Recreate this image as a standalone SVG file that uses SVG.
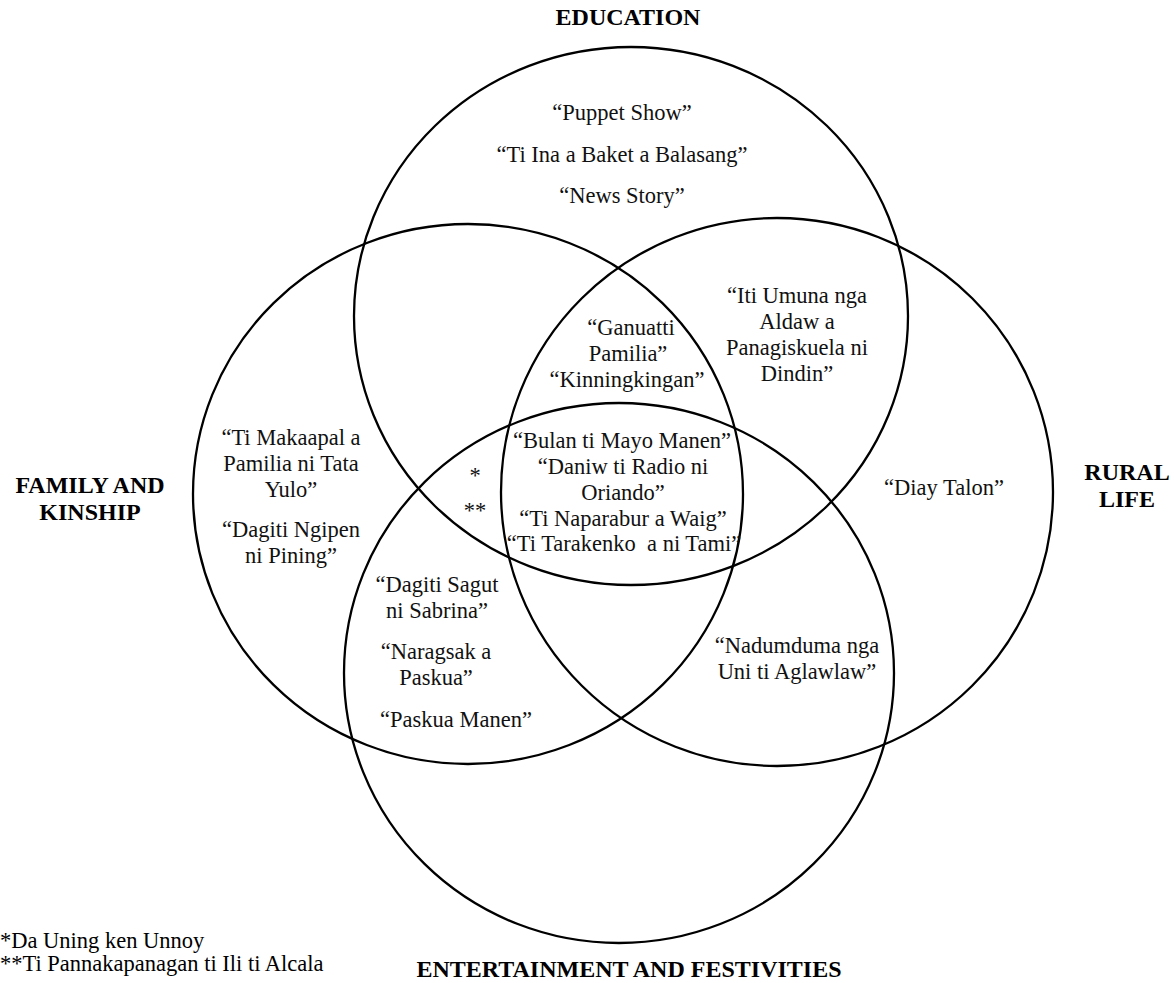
<svg xmlns="http://www.w3.org/2000/svg" width="1174" height="983" viewBox="0 0 1174 983">
<style>
.c{fill:none;stroke:#000;stroke-width:2.3}
.t{font-family:"Liberation Serif","Times New Roman",serif;font-size:22.5px;fill:#111;text-anchor:middle}
.l{font-family:"Liberation Serif","Times New Roman",serif;font-size:24px;font-weight:bold;fill:#000;text-anchor:middle}
.f{font-family:"Liberation Serif","Times New Roman",serif;font-size:22.5px;fill:#000}
</style>
<rect width="1174" height="983" fill="#fff"/>
<g id="connectors">
<ellipse id="c-education" class="c" cx="631" cy="316" rx="277" ry="269"/>
<ellipse id="c-family" class="c" cx="468" cy="494" rx="275" ry="270"/>
<ellipse id="c-rural" class="c" cx="777" cy="492" rx="276" ry="274"/>
<ellipse id="c-entertainment" class="c" cx="619" cy="673" rx="275" ry="270"/>
</g>
<g id="labels">
<text class="l" x="628" y="25">EDUCATION</text>
<text class="l" x="90" y="493">FAMILY AND</text>
<text class="l" x="90" y="520">KINSHIP</text>
<text class="l" x="1127" y="480">RURAL</text>
<text class="l" x="1127" y="507">LIFE</text>
<text class="l" x="629" y="977">ENTERTAINMENT AND FESTIVITIES</text>
</g>
<g id="education-only">
<text class="t" x="622" y="120">“Puppet Show”</text>
<text class="t" x="622" y="162">“Ti Ina a Baket a Balasang”</text>
<text class="t" x="622" y="203">“News Story”</text>
</g>
<g id="edu-family-rural">
<text class="t" x="631" y="335">“Ganuatti</text>
<text class="t" x="628" y="361">Pamilia”</text>
<text class="t" x="627" y="387">“Kinningkingan”</text>
</g>
<g id="all-four">
<text class="t" x="622" y="448">“Bulan ti Mayo Manen”</text>
<text class="t" x="623" y="474">“Daniw ti Radio ni</text>
<text class="t" x="623" y="500">Oriando”</text>
<text class="t" x="623" y="526">“Ti Naparabur a Waig”</text>
<text class="t" x="624" y="551" xml:space="preserve">“Ti Tarakenko  a ni Tami”</text>
</g>
<g id="edu-rural">
<text class="t" x="797" y="303">“Iti Umuna nga</text>
<text class="t" x="797" y="329">Aldaw a</text>
<text class="t" x="797" y="355">Panagiskuela ni</text>
<text class="t" x="797" y="381">Dindin”</text>
</g>
<g id="family-only">
<text class="t" x="291" y="445">“Ti Makaapal a</text>
<text class="t" x="291" y="471">Pamilia ni Tata</text>
<text class="t" x="291" y="497">Yulo”</text>
<text class="t" x="291" y="537">“Dagiti Ngipen</text>
<text class="t" x="291" y="563">ni Pining”</text>
</g>
<g id="edu-family-ent">
<text class="t" x="475" y="483">*</text>
<text class="t" x="475" y="518">**</text>
</g>
<g id="rural-only">
<text class="t" x="944" y="495">“Diay Talon”</text>
</g>
<g id="family-ent">
<text class="t" x="437" y="592">“Dagiti Sagut</text>
<text class="t" x="437" y="618">ni Sabrina”</text>
<text class="t" x="436" y="659">“Naragsak a</text>
<text class="t" x="436" y="685">Paskua”</text>
<text class="t" x="456" y="727">“Paskua Manen”</text>
</g>
<g id="rural-ent">
<text class="t" x="797" y="653">“Nadumduma nga</text>
<text class="t" x="797" y="679">Uni ti Aglawlaw”</text>
</g>
<g id="footnotes">
<text class="f" x="0" y="948">*Da Uning ken Unnoy</text>
<text class="f" x="0" y="971">**Ti Pannakapanagan ti Ili ti Alcala</text>
</g>
</svg>
